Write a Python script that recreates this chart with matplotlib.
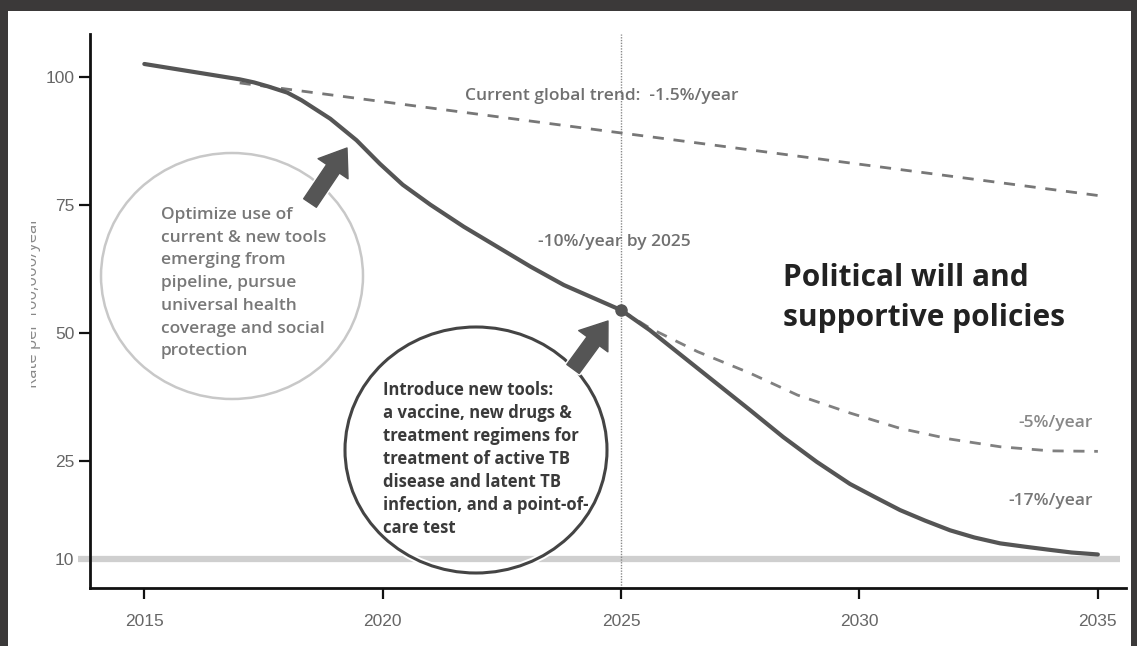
import numpy as np
import matplotlib
matplotlib.use("Agg")
import matplotlib.pyplot as plt
from matplotlib.patches import Ellipse, Rectangle
from matplotlib.transforms import Bbox
import matplotlib.patheffects as pe

plt.rcParams['font.family'] = ['Open Sans', 'DejaVu Sans']
plt.rcParams['lines.scale_dashes'] = False

# data (rate per 100,000 per year)
years_main = [2015.0, 2016.0, 2017.0, 2017.3, 2017.6, 2018.0, 2018.3, 2018.9, 2019.45, 2019.94,
              2020.42, 2021.0, 2021.7, 2022.4, 2023.1, 2023.8, 2025.0, 2025.6, 2026.3, 2027.0,
              2027.7, 2028.4, 2029.1, 2029.8, 2030.32, 2030.85, 2031.37, 2031.9, 2032.41, 2032.95,
              2033.46, 2034.0, 2034.45, 2035.0]
rate_main = [102.6, 101.1, 99.6, 99.0, 98.2, 97.0, 95.5, 91.9, 87.7, 83.1,
             79.0, 75.1, 70.8, 66.9, 63.0, 59.4, 54.5, 50.6, 45.4, 40.2,
             35.0, 29.7, 24.9, 21.5, 19.5, 17.5, 15.9, 14.4, 13.3, 12.4,
             11.9, 11.4, 11.0, 10.7]

years_trend = [2017.0, 2035.0]
rate_trend = [98.9, 76.9]

years_5pct = [2025.0, 2025.6, 2026.6, 2027.7, 2028.7, 2029.8, 2030.85, 2031.9, 2032.95, 2034.0, 2035.0]
rate_5pct = [54.5, 51.0, 46.4, 42.2, 37.9, 34.4, 31.4, 29.3, 27.8, 27.0, 26.9]

milestone_year = 2025
milestone_rate = 54.5
target_rate = 10

x_ticks = [2015, 2020, 2025, 2030, 2035]
y_ticks = [10, 25, 50, 75, 100]

# the original axis stretches the part below 25
K = 1.276


def fwd(y):
    y = np.asarray(y, float)
    return np.where(y < 25, 25 - (25 - y) * K, y)


def inv(z):
    z = np.asarray(z, float)
    return np.where(z < 25, 25 - (25 - z) / K, z)


W, H = 1137, 646
fig = plt.figure(figsize=(W / 100, H / 100), dpi=100, facecolor='#3b3939')
fig.patches.append(Rectangle((8 / W, 0), 1123 / W, 635 / H, transform=fig.transFigure,
                             facecolor='white', edgecolor='none', zorder=-5))

L, R, T, B = 89.5, 1126, 34.3, 588
ax = fig.add_axes([L / W, (H - B) / H, (R - L) / W, (B - T) / H])
ax.patch.set_alpha(0)
ax.set_zorder(2)


def px(x, y):
    # pixel position in the picture -> axes fraction
    return ((x - L) / (R - L), (B - y) / (B - T))


ax.set_yscale('function', functions=(fwd, inv))
ax.set_xlim(2013.85, 2035.59)
ax.set_ylim(float(inv(0.2)), 108.4)

for s in ['top', 'right']:
    ax.spines[s].set_visible(False)
for s in ['left', 'bottom']:
    ax.spines[s].set_linewidth(2)
    ax.spines[s].set_color('#111111')

ax.set_xticks(x_ticks)
ax.set_yticks(y_ticks)
ax.set_xticklabels([str(v) for v in x_ticks])
ax.set_yticklabels([str(v) for v in y_ticks])
ax.tick_params(axis='both', length=8, width=1.6, color='#111111', labelcolor='#666666',
               labelsize=12.5)
ax.tick_params(axis='x', pad=11)
ax.tick_params(axis='y', pad=3)
for lab in ax.get_xticklabels() + ax.get_yticklabels():
    lab.set_family(['Liberation Sans', 'DejaVu Sans'])
ax.yaxis.get_major_ticks()[0].tick1line.set_visible(False)

# target line at 10
ax.plot([2013.61, 2035.46], [target_rate, target_rate], color='#cfcfcf', lw=4.5,
        solid_capstyle='butt', clip_on=False, zorder=1)

ax.axvline(milestone_year, color='#8a8a8a', lw=1, ls=(0, (1, 1)), zorder=1)

ax.plot(years_trend, rate_trend, color='#777777', lw=2, dashes=(8, 7), zorder=2)
ax.plot(years_5pct, rate_5pct, color='#808080', lw=2, dashes=(8, 7), zorder=2)
ax.plot(years_main, rate_main, color='#555555', lw=3, solid_capstyle='round',
        solid_joinstyle='round', zorder=3)
ax.plot([milestone_year], [milestone_rate], 'o', ms=8, color='#555555', zorder=4)

# circles
c1 = Ellipse(px(232, 276), 262 / (R - L), 246 / (B - T), transform=ax.transAxes,
             facecolor='none', edgecolor='#c8c8c8', lw=1.8, zorder=2)
ax.add_patch(c1)
c2 = Ellipse(px(476, 450), 262 / (R - L), 246 / (B - T), transform=ax.transAxes,
             facecolor='none', edgecolor='#444444', lw=2.2, zorder=5,
             path_effects=[pe.Stroke(linewidth=5, foreground='white'), pe.Normal()])
ax.add_patch(c2)

# block arrows
for tail, tip in [((310, 203), (347, 148)), ((573, 369), (608, 321))]:
    ax.annotate('', xy=px(*tip), xytext=px(*tail), xycoords='axes fraction',
                textcoords='axes fraction', zorder=6,
                arrowprops=dict(arrowstyle='simple,head_length=0.9,head_width=1.3,tail_width=0.55',
                                mutation_scale=20, color='#555555', shrinkA=0, shrinkB=0,
                                path_effects=[pe.Stroke(linewidth=3, foreground='white'), pe.Normal()]))

grey = '#707070'
fs = 12.5
ax.text(*px(465, 96), 'Current global trend:  -1.5%/year', transform=ax.transAxes,
        fontsize=fs, color=grey, ha='left', va='center', weight='semibold', zorder=7)
ax.text(*px(538, 242), '-10%/year by 2025', transform=ax.transAxes,
        fontsize=fs, color=grey, ha='left', va='center', weight='semibold', zorder=7)
ax.text(*px(1093, 423), '-5%/year', transform=ax.transAxes,
        fontsize=fs, color='#888888', ha='right', va='center', weight='semibold', zorder=7)
ax.text(*px(1093, 501), '-17%/year', transform=ax.transAxes,
        fontsize=fs, color='#777777', ha='right', va='center', weight='semibold', zorder=7)
ax.text(*px(783, 298), 'Political will and\nsupportive policies', transform=ax.transAxes,
        fontsize=21.5, color='#222222', ha='left', va='center', weight='bold',
        linespacing=1.43, zorder=7)

ax.text(*px(161, 207), 'Optimize use of\ncurrent & new tools\nemerging from\npipeline, pursue\n'
        'universal health\ncoverage and social\nprotection', transform=ax.transAxes,
        fontsize=fs, color='#787878', ha='left', va='top', weight='semibold',
        linespacing=1.56, zorder=7)
ax.text(*px(383, 381), 'Introduce new tools:\na vaccine, new drugs &\ntreatment regimens for\n'
        'treatment of active TB\ndisease and latent TB\ninfection, and a point-of-\ncare test',
        transform=ax.transAxes, fontsize=12, color='#3a3a3a', ha='left', va='top',
        weight='bold', linespacing=1.36, zorder=7)

# y label, cut off on the left like in the source picture
yl = fig.text(33 / W, 1 - 302 / H, 'Rate per 100,000/year', rotation=90, ha='center',
              va='center', fontsize=12, color='#888888')
yl.set_clip_box(Bbox.from_extents(31, 0, 200, H))
yl.set_clip_on(True)

fig.savefig('out.png', dpi=100, facecolor=fig.get_facecolor())
